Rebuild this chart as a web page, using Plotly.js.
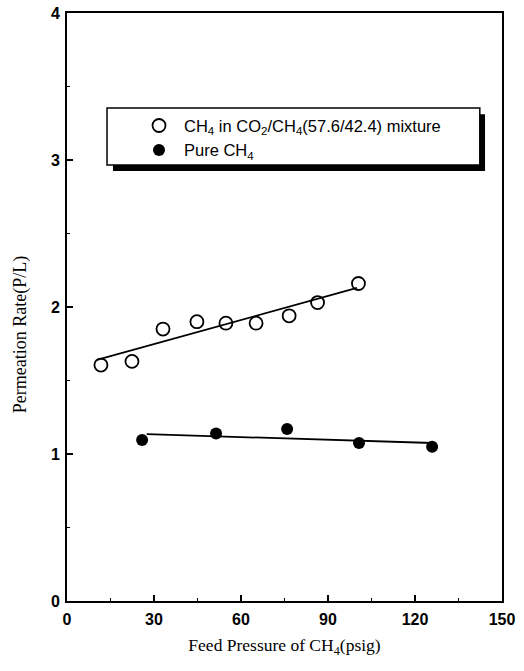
<!DOCTYPE html>
<html><head><meta charset="utf-8">
<script src="https://cdn.plot.ly/plotly-3.0.1.min.js"></script>
<style>html,body{margin:0;padding:0;background:#fff}</style>
</head><body><div id="chart" style="width:524px;height:671px"></div>
<script>
// Open circles: CH4 in CO2/CH4 mixture
const mixX = [11.7, 22.4, 33.1, 44.8, 54.8, 65.2, 76.6, 86.4, 100.5];
const mixY = [1.605, 1.63, 1.85, 1.90, 1.89, 1.89, 1.94, 2.03, 2.16];
// Filled circles: pure CH4
const pureX = [25.9, 51.4, 75.9, 100.7, 125.9];
const pureY = [1.095, 1.14, 1.17, 1.075, 1.05];
// Fitted lines (endpoints)
const mixFitX = [10.3, 100.0];
const mixFitY = [1.64, 2.13];
const pureFitX = [27.5, 126.0];
const pureFitY = [1.135, 1.075];
const xTicks = [0, 30, 60, 90, 120, 150];
const yTicks = [0, 1, 2, 3, 4];

const traces = [
  {x: mixFitX, y: mixFitY, mode: 'lines', line: {color: '#000', width: 1.8}, showlegend: false, hoverinfo: 'skip'},
  {x: pureFitX, y: pureFitY, mode: 'lines', line: {color: '#000', width: 1.8}, showlegend: false, hoverinfo: 'skip'},
  {x: mixX, y: mixY, mode: 'markers', name: 'CH<sub>4</sub> in CO<sub>2</sub>/CH<sub>4</sub>(57.6/42.4) mixture',
   marker: {symbol: 'circle-open', size: 13, color: '#000', line: {width: 1.8, color: '#000'}}},
  {x: pureX, y: pureY, mode: 'markers', name: 'Pure CH<sub>4</sub>',
   marker: {symbol: 'circle', size: 12, color: '#000'}}
];

const layout = {
  width: 524, height: 671,
  margin: {l: 67, r: 22, t: 13, b: 70},
  paper_bgcolor: '#fff', plot_bgcolor: '#fff',
  font: {family: 'Liberation Sans, Arial, sans-serif', color: '#000'},
  xaxis: {
    range: [0, 150], tickvals: xTicks, ticktext: xTicks.map(String),
    ticks: 'inside', ticklen: 6, tickwidth: 1.5, tickcolor: '#000',
    minor: {dtick: 15, ticks: 'inside', ticklen: 3, tickwidth: 1.2, tickcolor: '#000'},
    showline: true, linewidth: 2, linecolor: '#000', mirror: true,
    showgrid: false, zeroline: false, ticklabelstandoff: 3,
    tickfont: {family: 'Liberation Sans, Arial, sans-serif', size: 16, weight: 'bold'},
    title: {text: 'Feed Pressure of CH<sub>4</sub>(psig)', font: {family: 'Liberation Serif, Times New Roman, serif', size: 17.5}, standoff: 12}
  },
  yaxis: {
    range: [0, 4], tickvals: yTicks, ticktext: yTicks.map(String),
    ticks: 'inside', ticklen: 6, tickwidth: 1.5, tickcolor: '#000',
    minor: {dtick: 0.5, ticks: 'inside', ticklen: 3, tickwidth: 1.2, tickcolor: '#000'},
    showline: true, linewidth: 2, linecolor: '#000', mirror: true,
    showgrid: false, zeroline: false, ticklabelstandoff: 2,
    tickfont: {family: 'Liberation Sans, Arial, sans-serif', size: 16, weight: 'bold'}
  },
  annotations: [
    {text: 'Permeation Rate(P/L)', xref: 'paper', yref: 'paper', x: -0.108, y: 0.452,
     xanchor: 'center', yanchor: 'middle', textangle: -90, showarrow: false,
     font: {family: 'Liberation Serif, Times New Roman, serif', size: 18}}
  ],
  legend: {
    x: 0.092, y: 0.838, xanchor: 'left', yanchor: 'top',
    bgcolor: 'rgba(0,0,0,0)', borderwidth: 0,
    font: {family: 'Liberation Sans, Arial, sans-serif', size: 16.5},
    tracegroupgap: 2, itemwidth: 40, indentation: 27
  },
  shapes: [
    {type: 'rect', xref: 'paper', yref: 'paper', x0: 0.1057, x1: 0.961, y0: 0.7313, y1: 0.828,
     fillcolor: '#000', line: {width: 0}, layer: 'above'},
    {type: 'rect', xref: 'paper', yref: 'paper', x0: 0.092, x1: 0.949, y0: 0.7415, y1: 0.8384,
     fillcolor: '#fff', line: {width: 1.5, color: '#000'}, layer: 'above'}
  ]
};
Plotly.newPlot('chart', traces, layout, {displayModeBar: false, staticPlot: true});
</script></body></html>
